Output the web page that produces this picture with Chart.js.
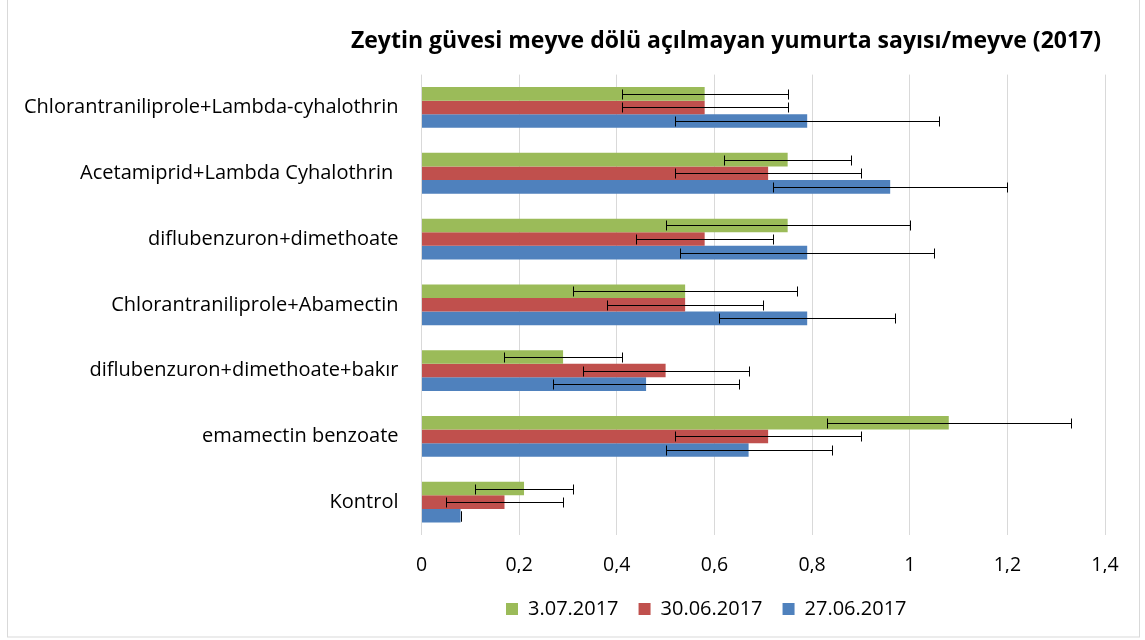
<!DOCTYPE html>
<html>
<head>
<meta charset="utf-8">
<script src="https://cdn.jsdelivr.net/npm/chart.js@4"></script>
<style>
  html, body { margin: 0; padding: 0; background: #fff; }
  #wrap { position: relative; width: 1145px; height: 640px; }
</style>
</head>
<body>
<div id="wrap"><canvas id="chart" width="1145" height="640"></canvas></div>
<script>
const categories = [
  'Chlorantraniliprole+Lambda-cyhalothrin',
  'Acetamiprid+Lambda Cyhalothrin ',
  'diflubenzuron+dimethoate',
  'Chlorantraniliprole+Abamectin',
  'diflubenzuron+dimethoate+bakır',
  'emamectin benzoate',
  'Kontrol'
];
const seriesNames = ['3.07.2017', '30.06.2017', '27.06.2017'];
const green = [0.58, 0.75, 0.75, 0.54, 0.29, 1.08, 0.21];
const red   = [0.58, 0.71, 0.58, 0.54, 0.50, 0.71, 0.17];
const blue  = [0.79, 0.96, 0.79, 0.79, 0.46, 0.67, 0.08];
const greenErr = [0.17, 0.13, 0.25, 0.23, 0.12, 0.25, 0.10];
const redErr   = [0.17, 0.19, 0.14, 0.16, 0.17, 0.19, 0.12];
const blueErr  = [0.27, 0.24, 0.26, 0.18, 0.19, 0.17, 0.00];
const xTicks = [0, 0.2, 0.4, 0.6, 0.8, 1, 1.2, 1.4];
const title = 'Zeytin güvesi meyve dölü açılmayan yumurta sayısı/meyve (2017)';

const font = '"Open Sans", Lato, sans-serif';

// white background + thin grey frame like the Excel chart area
const frame = {
  id: 'frame',
  beforeDraw(chart) {
    const c = chart.ctx;
    c.save();
    c.fillStyle = '#fff';
    c.fillRect(0, 0, chart.width, chart.height);
    c.strokeStyle = '#d9d9d9';
    c.lineWidth = 1;
    c.strokeRect(7.5, -1, 1132, 638);
    c.restore();
  }
};

// error bars (symmetric, +/-)
const errorBars = {
  id: 'errorBars',
  afterDatasetsDraw(chart) {
    const c = chart.ctx, xs = chart.scales.x;
    c.save();
    c.strokeStyle = '#000';
    c.lineWidth = 1;
    chart.data.datasets.forEach((ds, i) => {
      chart.getDatasetMeta(i).data.forEach((bar, j) => {
        const v = ds.data[j], e = ds.errors[j];
        const x1 = Math.round(xs.getPixelForValue(v - e)) + 0.5;
        const x2 = Math.round(xs.getPixelForValue(v + e)) + 0.5;
        const y = Math.round(bar.y) + 0.5;
        c.beginPath();
        c.moveTo(x1, y); c.lineTo(x2, y);
        c.moveTo(x1, y - 5); c.lineTo(x1, y + 5);
        c.moveTo(x2, y - 5); c.lineTo(x2, y + 5);
        c.stroke();
      });
    });
    c.restore();
  }
};

// move title and legend to where Excel put them
const placeBlocks = {
  id: 'placeBlocks',
  afterLayout(chart) {
    const t = chart.titleBlock;
    if (t) { t.left = 726 - 400; t.right = 726 + 400; }
    const lg = chart.legend;
    if (lg) {
      const h = lg.bottom - lg.top;
      lg.left = 506 - lg.options.labels.padding;
      lg.top = 604 - h / 2;
      lg.bottom = lg.top + h;
    }
  }
};

new Chart(document.getElementById('chart'), {
  type: 'bar',
  data: {
    labels: categories,
    datasets: [
      { label: seriesNames[0], data: green, errors: greenErr, backgroundColor: '#9BBB59' },
      { label: seriesNames[1], data: red, errors: redErr, backgroundColor: '#C0504D' },
      { label: seriesNames[2], data: blue, errors: blueErr, backgroundColor: '#4F81BD' }
    ]
  },
  options: {
    indexAxis: 'y',
    responsive: false,
    animation: false,
    categoryPercentage: 0.62,
    barPercentage: 1,
    layout: { padding: { left: 22, right: 40, top: 0, bottom: 17 } },
    scales: {
      x: {
        min: 0, max: 1.4,
        afterBuildTicks(axis) { axis.ticks = xTicks.map(v => ({ value: v })); },
        afterFit(axis) { axis.height = 38; },
        grid: { color: '#d9d9d9', drawTicks: false },
        border: { display: false },
        ticks: {
          padding: 18.5,
          color: '#000',
          font: { family: font, size: 19.5 },
          callback: v => String(+v.toFixed(1)).replace('.', ',')
        }
      },
      y: {
        afterFit(axis) { axis.width = 399.5; },
        grid: { display: false, drawTicks: false },
        border: { display: false },
        ticks: { padding: 23, color: '#000', font: { family: font, size: 20 } }
      }
    },
    plugins: {
      title: {
        display: true,
        text: title,
        color: '#000',
        font: { family: font, size: 23, weight: 'bold' },
        padding: { top: 28, bottom: 19 }
      },
      legend: {
        position: 'bottom',
        align: 'start',
        labels: {
          boxWidth: 12, boxHeight: 12, padding: 20,
          color: '#000',
          font: { family: font, size: 20 }
        }
      },
      tooltip: { enabled: false }
    }
  },
  plugins: [frame, errorBars, placeBlocks]
});
</script>
</body>
</html>
